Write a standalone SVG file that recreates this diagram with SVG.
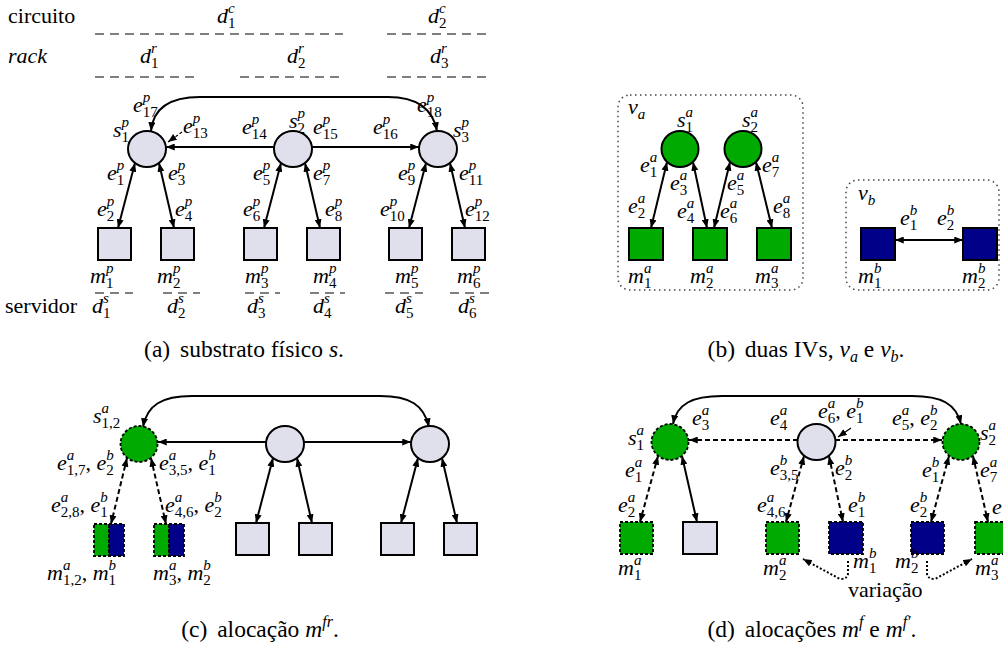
<svg xmlns="http://www.w3.org/2000/svg" width="1003" height="661" viewBox="0 0 1003 661">
<style>
.t{font-family:"Liberation Serif","Times New Roman",serif;font-size:22px;fill:#000}
.cap{font-family:"Liberation Serif","Times New Roman",serif;font-size:23.5px;fill:#000}
.cs{font-size:16px}
.i{font-style:italic}
.n{font-style:normal}
.sc{font-size:15px}
.ed{fill:none;stroke:#000;stroke-width:2}
.da{stroke-dasharray:5,3}
.dot{fill:none;stroke:#000;stroke-width:2;stroke-dasharray:2,2}
.gray{fill:#e0e0ec;stroke:#000;stroke-width:2}
.gr{fill:#00aa00;stroke:#000;stroke-width:2}
.grd{fill:#00aa00;stroke:#000;stroke-width:1.8;stroke-dasharray:3,2}
.bl{fill:#000088;stroke:#000;stroke-width:2}
.bld{fill:#000088;stroke:#000;stroke-width:1.8;stroke-dasharray:3,2}
.vm{fill:none;stroke:#444;stroke-width:1.5;stroke-dasharray:1.5,3.5}
.lev{fill:none;stroke:#000;stroke-width:1.2;stroke-dasharray:9,6}
</style>
<defs>
<marker id="ah" viewBox="0 0 10 8" refX="10" refY="4" markerWidth="9" markerHeight="7" markerUnits="userSpaceOnUse" orient="auto-start-reverse"><path d="M0,0 L10,4 L0,8 z" fill="#000"/></marker>
</defs>

<!-- ===== Panel (a) ===== -->
<g id="a-levels">
<text class="t" x="8" y="23">circuito</text>
<text class="t i" x="217" y="23">d<tspan class="sc" dy="-10">c</tspan><tspan class="sc n" dx="-6.7" dy="15">1</tspan></text>
<text class="t i" x="428" y="23">d<tspan class="sc" dy="-10">c</tspan><tspan class="sc n" dx="-6.7" dy="15">2</tspan></text>
<path class="lev" d="M95 34 H343 M387 34 H490"/>
<text class="t i" x="8" y="63">rack</text>
<text class="t i" x="140" y="63">d<tspan class="sc" dy="-10">r</tspan><tspan class="sc n" dx="-5.8" dy="15">1</tspan></text>
<text class="t i" x="287" y="63">d<tspan class="sc" dy="-10">r</tspan><tspan class="sc n" dx="-5.8" dy="15">2</tspan></text>
<text class="t i" x="430" y="63">d<tspan class="sc" dy="-10">r</tspan><tspan class="sc n" dx="-5.8" dy="15">3</tspan></text>
<path class="lev" d="M95 77 H200 M240 77 H343 M387 77 H490"/>
<path class="lev" d="M95 293 H133 M163 293 H200 M245 293 H280 M310 293 H345 M385 293 H423 M450 293 H490"/>
<text class="t" x="5" y="313">servidor</text>
<text class="t i" x="92" y="313">d<tspan class="sc" dy="-10">s</tspan><tspan class="sc n" dx="-5.8" dy="15">1</tspan></text>
<text class="t i" x="167" y="313">d<tspan class="sc" dy="-10">s</tspan><tspan class="sc n" dx="-5.8" dy="15">2</tspan></text>
<text class="t i" x="247" y="313">d<tspan class="sc" dy="-10">s</tspan><tspan class="sc n" dx="-5.8" dy="15">3</tspan></text>
<text class="t i" x="313" y="313">d<tspan class="sc" dy="-10">s</tspan><tspan class="sc n" dx="-5.8" dy="15">4</tspan></text>
<text class="t i" x="395" y="313">d<tspan class="sc" dy="-10">s</tspan><tspan class="sc n" dx="-5.8" dy="15">5</tspan></text>
<text class="t i" x="458" y="313">d<tspan class="sc" dy="-10">s</tspan><tspan class="sc n" dx="-5.8" dy="15">6</tspan></text>
</g>

<g id="connectors">
<!-- (a) -->
<path class="ed" marker-start="url(#ah)" marker-end="url(#ah)" d="M151 131 C153 110,168 97,200 97 L388 97 C418 97,433 110,437 131"/>
<path class="ed" marker-start="url(#ah)" marker-end="url(#ah)" d="M166 147 H274 M312 147 H419"/>
<line class="ed" marker-start="url(#ah)" marker-end="url(#ah)" x1="135" y1="163" x2="118" y2="228"/>
<line class="ed" marker-start="url(#ah)" marker-end="url(#ah)" x1="159" y1="163" x2="174" y2="228"/>
<line class="ed" marker-start="url(#ah)" marker-end="url(#ah)" x1="281" y1="163" x2="264" y2="228"/>
<line class="ed" marker-start="url(#ah)" marker-end="url(#ah)" x1="305" y1="163" x2="320" y2="228"/>
<line class="ed" marker-start="url(#ah)" marker-end="url(#ah)" x1="426" y1="163" x2="409" y2="228"/>
<line class="ed" marker-start="url(#ah)" marker-end="url(#ah)" x1="450" y1="163" x2="465" y2="228"/>
<line class="ed" style="stroke-width:1.2" stroke-dasharray="3,2" marker-end="url(#ah)" x1="182" y1="132" x2="168" y2="142"/>
<!-- (b) -->
<line class="ed" marker-start="url(#ah)" marker-end="url(#ah)" x1="667" y1="162" x2="651" y2="228"/>
<line class="ed" marker-start="url(#ah)" marker-end="url(#ah)" x1="693" y1="162" x2="707" y2="228"/>
<line class="ed" marker-start="url(#ah)" marker-end="url(#ah)" x1="730" y1="162" x2="714" y2="228"/>
<line class="ed" marker-start="url(#ah)" marker-end="url(#ah)" x1="756" y1="162" x2="772" y2="228"/>
<line class="ed" marker-start="url(#ah)" marker-end="url(#ah)" x1="895" y1="240" x2="963" y2="240"/>
<!-- (c) -->
<path class="ed" marker-start="url(#ah)" marker-end="url(#ah)" d="M143 427 C147 405,162 396,192 396 L380 396 C410 396,424 405,429 427"/>
<path class="ed" marker-start="url(#ah)" marker-end="url(#ah)" d="M158 442 H266 M304 442 H411"/>
<line class="ed da" marker-start="url(#ah)" marker-end="url(#ah)" x1="127" y1="458" x2="111" y2="524"/>
<line class="ed da" marker-start="url(#ah)" marker-end="url(#ah)" x1="151" y1="458" x2="166" y2="524"/>
<line class="ed" marker-start="url(#ah)" marker-end="url(#ah)" x1="273" y1="458" x2="256" y2="523"/>
<line class="ed" marker-start="url(#ah)" marker-end="url(#ah)" x1="297" y1="458" x2="312" y2="523"/>
<line class="ed" marker-start="url(#ah)" marker-end="url(#ah)" x1="418" y1="458" x2="401" y2="523"/>
<line class="ed" marker-start="url(#ah)" marker-end="url(#ah)" x1="442" y1="458" x2="457" y2="523"/>
<!-- (d) -->
<path class="ed" marker-start="url(#ah)" marker-end="url(#ah)" d="M673 424 C677 404,692 396,722 396 L912 396 C942 396,956 404,961 424"/>
<path class="ed da" marker-start="url(#ah)" marker-end="url(#ah)" d="M689 440 H798 M835 440 H942"/>
<line class="ed da" marker-start="url(#ah)" marker-end="url(#ah)" x1="658" y1="456" x2="640" y2="522"/>
<line class="ed" marker-start="url(#ah)" marker-end="url(#ah)" x1="682" y1="456" x2="697" y2="522"/>
<line class="ed da" marker-start="url(#ah)" marker-end="url(#ah)" x1="804" y1="456" x2="786" y2="522"/>
<line class="ed da" marker-start="url(#ah)" marker-end="url(#ah)" x1="829" y1="456" x2="843" y2="522"/>
<line class="ed da" marker-start="url(#ah)" marker-end="url(#ah)" x1="949" y1="456" x2="931" y2="522"/>
<line class="ed da" marker-start="url(#ah)" marker-end="url(#ah)" x1="973" y1="456" x2="988" y2="522"/>
<line class="ed" style="stroke-width:1.2" marker-end="url(#ah)" x1="851" y1="428" x2="838" y2="437"/>
<path class="dot" marker-end="url(#ah)" d="M848 561 V573 Q848 579 840 579 L803 559"/>
<path class="dot" marker-end="url(#ah)" d="M927 561 V573 Q927 579 935 579 L972 559"/>
</g>

<!-- nodes (a) -->
<g id="a-s1"><ellipse class="gray" cx="147" cy="149" rx="19" ry="18"/></g>
<g id="a-s2"><ellipse class="gray" cx="293" cy="149" rx="19" ry="18"/></g>
<g id="a-s3"><ellipse class="gray" cx="438" cy="149" rx="19" ry="18"/></g>
<g id="a-m1"><rect class="gray" x="98" y="228" width="33" height="32"/></g>
<g id="a-m2"><rect class="gray" x="161" y="228" width="33" height="32"/></g>
<g id="a-m3"><rect class="gray" x="244" y="228" width="33" height="32"/></g>
<g id="a-m4"><rect class="gray" x="307" y="228" width="33" height="32"/></g>
<g id="a-m5"><rect class="gray" x="389" y="228" width="33" height="32"/></g>
<g id="a-m6"><rect class="gray" x="452" y="228" width="33" height="32"/></g>

<g id="a-labels" class="t i">
<text x="133" y="112">e<tspan class="sc" dy="-10">p</tspan><tspan class="sc n" dx="-7.5" dy="15">17</tspan></text>
<text x="417" y="112">e<tspan class="sc" dy="-10">p</tspan><tspan class="sc n" dx="-7.5" dy="15">18</tspan></text>
<text x="113" y="137">s<tspan class="sc" dy="-10">p</tspan><tspan class="sc n" dx="-7.5" dy="15">1</tspan></text>
<text x="289" y="128">s<tspan class="sc" dy="-10">p</tspan><tspan class="sc n" dx="-7.5" dy="15">2</tspan></text>
<text x="453" y="137">s<tspan class="sc" dy="-10">p</tspan><tspan class="sc n" dx="-7.5" dy="15">3</tspan></text>
<text x="183" y="133">e<tspan class="sc" dy="-10">p</tspan><tspan class="sc n" dx="-7.5" dy="15">13</tspan></text>
<text x="242" y="134">e<tspan class="sc" dy="-10">p</tspan><tspan class="sc n" dx="-7.5" dy="15">14</tspan></text>
<text x="313" y="134">e<tspan class="sc" dy="-10">p</tspan><tspan class="sc n" dx="-7.5" dy="15">15</tspan></text>
<text x="373" y="134">e<tspan class="sc" dy="-10">p</tspan><tspan class="sc n" dx="-7.5" dy="15">16</tspan></text>
<text x="107" y="180">e<tspan class="sc" dy="-10">p</tspan><tspan class="sc n" dx="-7.5" dy="15">1</tspan></text>
<text x="168" y="180">e<tspan class="sc" dy="-10">p</tspan><tspan class="sc n" dx="-7.5" dy="15">3</tspan></text>
<text x="253" y="180">e<tspan class="sc" dy="-10">p</tspan><tspan class="sc n" dx="-7.5" dy="15">5</tspan></text>
<text x="313" y="180">e<tspan class="sc" dy="-10">p</tspan><tspan class="sc n" dx="-7.5" dy="15">7</tspan></text>
<text x="398" y="180">e<tspan class="sc" dy="-10">p</tspan><tspan class="sc n" dx="-7.5" dy="15">9</tspan></text>
<text x="459" y="180">e<tspan class="sc" dy="-10">p</tspan><tspan class="sc n" dx="-7.5" dy="15">11</tspan></text>
<text x="97" y="216">e<tspan class="sc" dy="-10">p</tspan><tspan class="sc n" dx="-7.5" dy="15">2</tspan></text>
<text x="175" y="216">e<tspan class="sc" dy="-10">p</tspan><tspan class="sc n" dx="-7.5" dy="15">4</tspan></text>
<text x="243" y="216">e<tspan class="sc" dy="-10">p</tspan><tspan class="sc n" dx="-7.5" dy="15">6</tspan></text>
<text x="325" y="216">e<tspan class="sc" dy="-10">p</tspan><tspan class="sc n" dx="-7.5" dy="15">8</tspan></text>
<text x="380" y="216">e<tspan class="sc" dy="-10">p</tspan><tspan class="sc n" dx="-7.5" dy="15">10</tspan></text>
<text x="465" y="216">e<tspan class="sc" dy="-10">p</tspan><tspan class="sc n" dx="-7.5" dy="15">12</tspan></text>
<text x="90" y="283">m<tspan class="sc" dy="-10">p</tspan><tspan class="sc n" dx="-7.5" dy="15">1</tspan></text>
<text x="157" y="283">m<tspan class="sc" dy="-10">p</tspan><tspan class="sc n" dx="-7.5" dy="15">2</tspan></text>
<text x="245" y="283">m<tspan class="sc" dy="-10">p</tspan><tspan class="sc n" dx="-7.5" dy="15">3</tspan></text>
<text x="313" y="283">m<tspan class="sc" dy="-10">p</tspan><tspan class="sc n" dx="-7.5" dy="15">4</tspan></text>
<text x="395" y="283">m<tspan class="sc" dy="-10">p</tspan><tspan class="sc n" dx="-7.5" dy="15">5</tspan></text>
<text x="457" y="283">m<tspan class="sc" dy="-10">p</tspan><tspan class="sc n" dx="-7.5" dy="15">6</tspan></text>
</g>
<text class="cap" x="244" y="357" text-anchor="middle">(a)<tspan dx="4"> substrato físico </tspan><tspan class="i">s</tspan>.</text>

<!-- ===== Panel (b) ===== -->
<g id="b-va"><rect class="vm" x="618" y="95" width="185" height="195" rx="12"/>
<text class="t i" x="628" y="114">v<tspan class="sc" dy="5">a</tspan></text></g>
<g id="b-vb"><rect class="vm" x="846" y="180" width="153" height="110" rx="12"/>
<text class="t i" x="858" y="200">v<tspan class="sc" dy="5">b</tspan></text></g>
<g id="b-s1"><ellipse class="gr" cx="680" cy="149" rx="18.5" ry="18"/></g>
<g id="b-s2"><ellipse class="gr" cx="743" cy="149" rx="18.5" ry="18"/></g>
<g id="b-ma1"><rect class="gr" x="629" y="228" width="34" height="32"/></g>
<g id="b-ma2"><rect class="gr" x="693" y="228" width="34" height="32"/></g>
<g id="b-ma3"><rect class="gr" x="757" y="228" width="34" height="32"/></g>
<g id="b-mb1"><rect class="bl" x="861" y="228" width="34" height="32"/></g>
<g id="b-mb2"><rect class="bl" x="963" y="228" width="34" height="32"/></g>
<g id="b-labels" class="t i">
<text x="677" y="127">s<tspan class="sc" dy="-10">a</tspan><tspan class="sc n" dx="-7.5" dy="15">1</tspan></text>
<text x="742" y="127">s<tspan class="sc" dy="-10">a</tspan><tspan class="sc n" dx="-7.5" dy="15">2</tspan></text>
<text x="640" y="172">e<tspan class="sc" dy="-10">a</tspan><tspan class="sc n" dx="-7.5" dy="15">1</tspan></text>
<text x="762" y="172">e<tspan class="sc" dy="-10">a</tspan><tspan class="sc n" dx="-7.5" dy="15">7</tspan></text>
<text x="670" y="190">e<tspan class="sc" dy="-10">a</tspan><tspan class="sc n" dx="-7.5" dy="15">3</tspan></text>
<text x="727" y="190">e<tspan class="sc" dy="-10">a</tspan><tspan class="sc n" dx="-7.5" dy="15">5</tspan></text>
<text x="628" y="213">e<tspan class="sc" dy="-10">a</tspan><tspan class="sc n" dx="-7.5" dy="15">2</tspan></text>
<text x="773" y="213">e<tspan class="sc" dy="-10">a</tspan><tspan class="sc n" dx="-7.5" dy="15">8</tspan></text>
<text x="677" y="218">e<tspan class="sc" dy="-10">a</tspan><tspan class="sc n" dx="-7.5" dy="15">4</tspan></text>
<text x="720" y="218">e<tspan class="sc" dy="-10">a</tspan><tspan class="sc n" dx="-7.5" dy="15">6</tspan></text>
<text x="628" y="283">m<tspan class="sc" dy="-10">a</tspan><tspan class="sc n" dx="-7.5" dy="15">1</tspan></text>
<text x="690" y="283">m<tspan class="sc" dy="-10">a</tspan><tspan class="sc n" dx="-7.5" dy="15">2</tspan></text>
<text x="755" y="283">m<tspan class="sc" dy="-10">a</tspan><tspan class="sc n" dx="-7.5" dy="15">3</tspan></text>
<text x="900" y="225">e<tspan class="sc" dy="-10">b</tspan><tspan class="sc n" dx="-7.5" dy="15">1</tspan></text>
<text x="937" y="225">e<tspan class="sc" dy="-10">b</tspan><tspan class="sc n" dx="-7.5" dy="15">2</tspan></text>
<text x="858" y="283">m<tspan class="sc" dy="-10">b</tspan><tspan class="sc n" dx="-7.5" dy="15">1</tspan></text>
<text x="962" y="283">m<tspan class="sc" dy="-10">b</tspan><tspan class="sc n" dx="-7.5" dy="15">2</tspan></text>
</g>
<text class="cap" x="806" y="357" text-anchor="middle">(b)<tspan dx="4"> duas IVs, </tspan><tspan class="i">v</tspan><tspan class="cs i" dy="5">a</tspan><tspan dy="-5"> e </tspan><tspan class="i">v</tspan><tspan class="cs i" dy="5">b</tspan><tspan dy="-5">.</tspan></text>

<!-- ===== Panel (c) ===== -->
<g id="c-s12"><ellipse class="grd" cx="139" cy="444" rx="18.5" ry="18"/></g>
<g id="c-s2"><ellipse class="gray" cx="285" cy="444" rx="19" ry="18"/></g>
<g id="c-s3"><ellipse class="gray" cx="430" cy="444" rx="19" ry="18"/></g>
<g id="c-m1"><rect class="grd" x="94" y="524" width="15" height="32"/><rect class="bld" x="109" y="524" width="15" height="32"/></g>
<g id="c-m2"><rect class="grd" x="154" y="524" width="15" height="32"/><rect class="bld" x="169" y="524" width="15" height="32"/></g>
<g id="c-m3"><rect class="gray" x="236" y="523" width="33" height="32"/></g>
<g id="c-m4"><rect class="gray" x="299" y="523" width="33" height="32"/></g>
<g id="c-m5"><rect class="gray" x="381" y="523" width="33" height="32"/></g>
<g id="c-m6"><rect class="gray" x="444" y="523" width="33" height="32"/></g>
<g id="c-labels" class="t i">
<text x="93" y="423">s<tspan class="sc" dy="-10">a</tspan><tspan class="sc n" dx="-7.5" dy="15">1,2</tspan></text>
<text x="57" y="470">e<tspan class="sc" dy="-10">a</tspan><tspan class="sc n" dx="-7.5" dy="15">1,7</tspan><tspan class="n" dy="-5">, </tspan>e<tspan class="sc" dy="-10">b</tspan><tspan class="sc n" dx="-7.5" dy="15">2</tspan></text>
<text x="159" y="470">e<tspan class="sc" dy="-10">a</tspan><tspan class="sc n" dx="-7.5" dy="15">3,5</tspan><tspan class="n" dy="-5">, </tspan>e<tspan class="sc" dy="-10">b</tspan><tspan class="sc n" dx="-7.5" dy="15">1</tspan></text>
<text x="51" y="512">e<tspan class="sc" dy="-10">a</tspan><tspan class="sc n" dx="-7.5" dy="15">2,8</tspan><tspan class="n" dy="-5">, </tspan>e<tspan class="sc" dy="-10">b</tspan><tspan class="sc n" dx="-7.5" dy="15">1</tspan></text>
<text x="165" y="512">e<tspan class="sc" dy="-10">a</tspan><tspan class="sc n" dx="-7.5" dy="15">4,6</tspan><tspan class="n" dy="-5">, </tspan>e<tspan class="sc" dy="-10">b</tspan><tspan class="sc n" dx="-7.5" dy="15">2</tspan></text>
<text x="47" y="580">m<tspan class="sc" dy="-10">a</tspan><tspan class="sc n" dx="-7.5" dy="15">1,2</tspan><tspan class="n" dy="-5">, </tspan>m<tspan class="sc" dy="-10">b</tspan><tspan class="sc n" dx="-7.5" dy="15">1</tspan></text>
<text x="153" y="580">m<tspan class="sc" dy="-10">a</tspan><tspan class="sc n" dx="-7.5" dy="15">3</tspan><tspan class="n" dy="-5">, </tspan>m<tspan class="sc" dy="-10">b</tspan><tspan class="sc n" dx="-7.5" dy="15">2</tspan></text>
</g>
<text class="cap" x="260" y="637" text-anchor="middle">(c)<tspan dx="4"> alocação </tspan><tspan class="i">m</tspan><tspan class="cs i" dy="-10">fr</tspan><tspan dy="10">.</tspan></text>

<!-- ===== Panel (d) ===== -->
<g id="d-s1"><ellipse class="grd" cx="670" cy="442" rx="18.5" ry="18"/></g>
<g id="d-mid"><ellipse class="gray" cx="816.5" cy="442" rx="19" ry="18"/></g>
<g id="d-s2"><ellipse class="grd" cx="961" cy="442" rx="18.5" ry="18"/></g>
<g id="d-ma1"><rect class="grd" x="620" y="522" width="33" height="32"/></g>
<g id="d-mg"><rect class="gray" x="683" y="522" width="34" height="32"/></g>
<g id="d-ma2"><rect class="grd" x="766" y="522" width="33" height="32"/></g>
<g id="d-mb1"><rect class="bld" x="829" y="522" width="34" height="32"/></g>
<g id="d-mb2"><rect class="bld" x="911" y="522" width="33" height="32"/></g>
<g id="d-ma3"><rect class="grd" x="975" y="522" width="34" height="32"/></g>
<g id="d-labels" class="t i">
<text x="628" y="445">s<tspan class="sc" dy="-10">a</tspan><tspan class="sc n" dx="-7.5" dy="15">1</tspan></text>
<text x="980" y="440">s<tspan class="sc" dy="-10">a</tspan><tspan class="sc n" dx="-7.5" dy="15">2</tspan></text>
<text x="692" y="425">e<tspan class="sc" dy="-10">a</tspan><tspan class="sc n" dx="-7.5" dy="15">3</tspan></text>
<text x="770" y="425">e<tspan class="sc" dy="-10">a</tspan><tspan class="sc n" dx="-7.5" dy="15">4</tspan></text>
<text x="818" y="418">e<tspan class="sc" dy="-10">a</tspan><tspan class="sc n" dx="-7.5" dy="15">6</tspan><tspan class="n" dy="-5">, </tspan>e<tspan class="sc" dy="-10">b</tspan><tspan class="sc n" dx="-7.5" dy="15">1</tspan></text>
<text x="892" y="425">e<tspan class="sc" dy="-10">a</tspan><tspan class="sc n" dx="-7.5" dy="15">5</tspan><tspan class="n" dy="-5">, </tspan>e<tspan class="sc" dy="-10">b</tspan><tspan class="sc n" dx="-7.5" dy="15">2</tspan></text>
<text x="625" y="477">e<tspan class="sc" dy="-10">a</tspan><tspan class="sc n" dx="-7.5" dy="15">1</tspan></text>
<text x="618" y="512">e<tspan class="sc" dy="-10">a</tspan><tspan class="sc n" dx="-7.5" dy="15">2</tspan></text>
<text x="770" y="475">e<tspan class="sc" dy="-10">b</tspan><tspan class="sc n" dx="-7.5" dy="15">3,5</tspan></text>
<text x="835" y="475">e<tspan class="sc" dy="-10">b</tspan><tspan class="sc n" dx="-7.5" dy="15">2</tspan></text>
<text x="757" y="512">e<tspan class="sc" dy="-10">a</tspan><tspan class="sc n" dx="-7.5" dy="15">4,6</tspan></text>
<text x="848" y="512">e<tspan class="sc" dy="-10">b</tspan><tspan class="sc n" dx="-7.5" dy="15">1</tspan></text>
<text x="922" y="477">e<tspan class="sc" dy="-10">b</tspan><tspan class="sc n" dx="-7.5" dy="15">1</tspan></text>
<text x="980" y="477">e<tspan class="sc" dy="-10">a</tspan><tspan class="sc n" dx="-7.5" dy="15">7</tspan></text>
<text x="910" y="512">e<tspan class="sc" dy="-10">b</tspan><tspan class="sc n" dx="-7.5" dy="15">2</tspan></text>
<text x="992" y="514">e</text>
<text x="618" y="575">m<tspan class="sc" dy="-10">a</tspan><tspan class="sc n" dx="-7.5" dy="15">1</tspan></text>
<text x="763" y="575">m<tspan class="sc" dy="-10">a</tspan><tspan class="sc n" dx="-7.5" dy="15">2</tspan></text>
<text x="853" y="568">m<tspan class="sc" dy="-10">b</tspan><tspan class="sc n" dx="-7.5" dy="15">1</tspan></text>
<text x="895" y="568">m<tspan class="sc" dy="-10">b</tspan><tspan class="sc n" dx="-7.5" dy="15">2</tspan></text>
<text x="975" y="575">m<tspan class="sc" dy="-10">a</tspan><tspan class="sc n" dx="-7.5" dy="15">3</tspan></text>
<text class="n" x="848" y="597">variação</text>
</g>
<text class="cap" x="812" y="637" text-anchor="middle">(d)<tspan dx="4"> alocações </tspan><tspan class="i">m</tspan><tspan class="cs i" dy="-10">f</tspan><tspan dy="10"> e </tspan><tspan class="i">m</tspan><tspan class="cs i" dy="-10">f′</tspan><tspan dy="10">.</tspan></text>
</svg>
